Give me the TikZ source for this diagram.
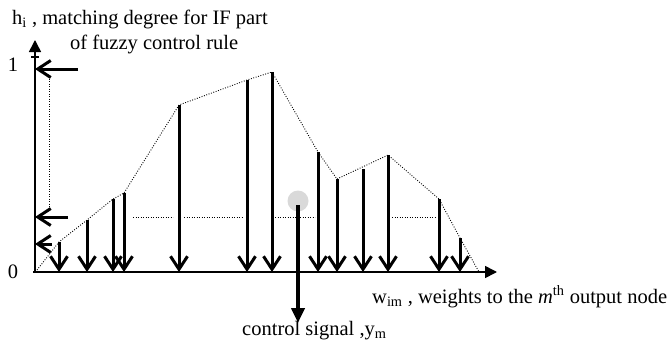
\documentclass[tikz,border=0pt]{standalone}
\usepackage{fontspec}
\setmainfont{Liberation Serif}
\usetikzlibrary{arrows.meta}
\definecolor{coggray}{RGB}{217,217,217}

\begin{document}
\begin{tikzpicture}[x=1pt,y=-1pt,
  axis/.style={line width=1.6pt,-{Triangle[length=12pt,width=12pt]}},
  weight/.style={line width=3pt,-{Straight Barb[length=13pt,width=17pt]}},
  env/.style={line width=0.9pt,dash pattern=on 0.9pt off 1.6pt},
  lbl/.style={font=\fontsize{20.5}{24}\selectfont,inner sep=0pt}
]
  \useasboundingbox (0,0) rectangle (672,343);

  % axes
  \coordinate (o) at (35,273);
  \coordinate (ytop) at (35,40);
  \coordinate (xend) at (497,272);
  \draw[axis] (o) -- (ytop);
  \draw[axis] (33,272) -- (xend);
  \draw[line width=1.2pt] (31,57) -- (39,57);
  \node[lbl,anchor=base] (one) at (13,71) {1};
  \node[lbl,anchor=base] (zero) at (13,278) {0};

  % levels
  \coordinate (l1s) at (78,69);  \coordinate (l1e) at (35,69);
  \coordinate (l2s) at (68,217); \coordinate (l2e) at (35,217);
  \coordinate (l3s) at (52,244); \coordinate (l3e) at (35,244);
  \draw[weight] (l1s) -- (l1e);
  \draw[weight] (l2s) -- (l2e);
  \draw[weight] (l3s) -- (l3e);
  \draw[env] (49,76) -- (49,207);
  \foreach \a/\b in {133/173,184/242,275/315,392/436}
    \draw[env] (\a,217) -- (\b,217);

  % weights
  \foreach \x/\t [count=\i] in {59/242,87/220,113/199,124/193,179/105,247/80,272/72,
                                318/152,337/179,363/169,388/155,439/199,460/238}{
    \coordinate (t\i) at (\x,\t);
    \coordinate (b\i) at (\x,272);
  }
  \coordinate (e0) at (37,270);
  \coordinate (e1) at (479,272);
  \draw[env] (e0) -- (t1) -- (t2) -- (t3) -- (t4) -- (t5) -- (t6) -- (t7)
    -- (t8) -- (t9) -- (t11) -- (t12) -- (t13) -- (e1);
  \foreach \i in {1,...,13}
    \draw[weight] (t\i) -- (b\i);

  % defuzzified output
  \node[circle,fill=coggray,minimum size=21pt,inner sep=0pt] (cog) at (298,201) {};
  \coordinate (cs) at (298,205);
  \coordinate (ym) at (298,323);
  \draw[line width=4pt,-{Triangle[length=15pt,width=13pt]}] (cs) -- (ym);

  % labels
  \node[lbl,anchor=base west] (hlab) at (12,24) {h\textsubscript{i} , matching degree for IF part};
  \node[lbl,anchor=base west] (hlab2) at (70,49) {of fuzzy control rule};
  \node[lbl,anchor=base west] (wlab) at (372,303) {w\textsubscript{im} , weights to the \textit{m}\textsuperscript{th} output node};
  \node[lbl,anchor=base west] (ylab) at (242,335) {control signal ,y\textsubscript{m}};
\end{tikzpicture}
\end{document}
